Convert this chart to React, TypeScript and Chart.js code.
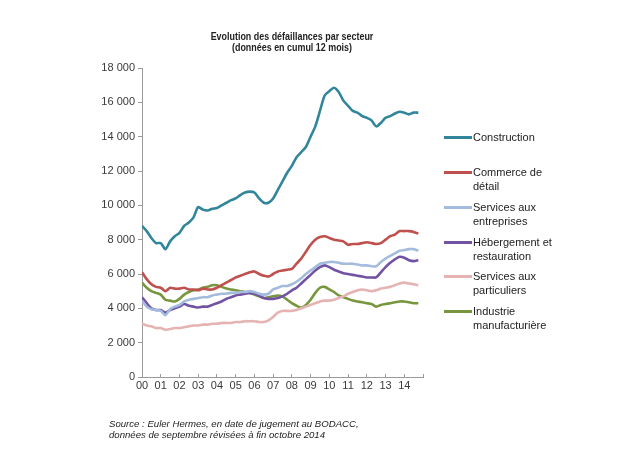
import React, { useEffect, useRef } from "react";
import { Chart, registerables } from "chart.js";

Chart.register(...registerables);

// Time axis: quarterly points, 2000 Q1 .. 2014 Q4 (x = years since 2000)
const yearLabels = ["00", "01", "02", "03", "04", "05", "06", "07", "08", "09", "10", "11", "12", "13", "14"];

const seriesNames = [
  "Construction",
  "Commerce de détail",
  "Services aux entreprises",
  "Hébergement et restauration",
  "Services aux particuliers",
  "Industrie manufacturière",
];

const seriesColors = ["#31869B", "#C0504D", "#A3BCDD", "#7253A3", "#E5B3B2", "#77963D"];

const construction = [
  8800, 8500, 8100, 7800, 7800, 7450, 7900, 8200, 8400, 8800, 9000, 9300,
  9900, 9750, 9700, 9800, 9850, 10000, 10150, 10300, 10400, 10600, 10750, 10800,
  10750, 10400, 10150, 10150, 10400, 10900, 11400, 11900, 12300, 12800, 13100, 13400,
  14000, 14600, 15500, 16400, 16650, 16850, 16600, 16100, 15800, 15500, 15400, 15200,
  15100, 14950, 14600, 14800, 15100, 15200, 15350, 15450, 15400, 15300, 15400, 15400,
];

const commerce = [
  6100, 5700, 5400, 5250, 5200, 5000, 5200, 5150, 5150, 5200, 5100, 5100,
  5050, 5150, 5100, 5100, 5200, 5350, 5500, 5650, 5800, 5900, 6000, 6100,
  6150, 6000, 5900, 5850, 6000, 6150, 6200, 6250, 6300, 6600, 6900, 7300,
  7700, 8000, 8150, 8200, 8100, 8000, 7950, 7900, 7700, 7750, 7750, 7800,
  7850, 7800, 7750, 7800, 8000, 8200, 8300, 8500, 8500, 8500, 8450, 8350,
];

const servicesEntreprises = [
  4450, 4100, 3950, 3900, 3850, 3600, 3950, 4100, 4200, 4400, 4500, 4550,
  4600, 4650, 4650, 4750, 4800, 4850, 4850, 4900, 4900, 4950, 4950, 5000,
  4950, 4850, 4800, 4850, 5100, 5200, 5300, 5300, 5400, 5550, 5750, 6000,
  6200, 6400, 6600, 6650, 6700, 6700, 6650, 6600, 6600, 6600, 6550, 6500,
  6500, 6450, 6450, 6700, 6900, 7050, 7200, 7350, 7400, 7450, 7450, 7350,
];

const hebergement = [
  4650, 4300, 4000, 3900, 3900, 3750, 3900, 4000, 4100, 4250, 4150, 4100,
  4050, 4100, 4100, 4200, 4300, 4400, 4550, 4650, 4750, 4800, 4850, 4900,
  4850, 4750, 4600, 4550, 4550, 4600, 4700, 4850, 5050, 5200, 5450, 5700,
  5950, 6200, 6400, 6500, 6400, 6250, 6150, 6050, 6000, 5950, 5900, 5850,
  5800, 5800, 5800, 6100, 6400, 6650, 6850, 7000, 6950, 6800, 6750, 6800,
];

const servicesParticuliers = [
  3100, 3000, 2950, 2850, 2850, 2750, 2800, 2850, 2850, 2900, 2950, 3000,
  3000, 3050, 3050, 3100, 3100, 3150, 3150, 3150, 3200, 3200, 3250, 3250,
  3250, 3200, 3200, 3300, 3500, 3750, 3850, 3850, 3850, 3900, 4000, 4100,
  4200, 4300, 4400, 4450, 4450, 4500, 4600, 4700, 4850, 4950, 5050, 5100,
  5050, 5000, 5050, 5150, 5200, 5250, 5350, 5450, 5500, 5450, 5400, 5350,
];

const industrie = [
  5500, 5200, 5000, 4900, 4800, 4500, 4450, 4400, 4550, 4800, 4950, 5050,
  5100, 5200, 5250, 5350, 5350, 5250, 5150, 5100, 5050, 5000, 4950, 4900,
  4800, 4700, 4600, 4650, 4700, 4750, 4700, 4500, 4300, 4150, 4050, 4200,
  4500, 4900, 5200, 5250, 5100, 4950, 4750, 4650, 4550, 4450, 4400, 4350,
  4300, 4250, 4100, 4200, 4250, 4300, 4350, 4400, 4400, 4350, 4300, 4300,
];

const seriesValues = [construction, commerce, servicesEntreprises, hebergement, servicesParticuliers, industrie];

const yTickValues = [0, 2000, 4000, 6000, 8000, 10000, 12000, 14000, 16000, 18000];

const titleLines = ["Evolution des défaillances par secteur", "(données en cumul 12 mois)"];
const sourceLines = [
  "Source : Euler Hermes, en date de jugement au BODACC,",
  "données de septembre révisées à fin octobre 2014",
];

const FONT = "'Liberation Sans', Arial, Helvetica, sans-serif";

function formatThousands(v: number): string {
  const s = String(Math.round(v));
  return s.replace(/\B(?=(\d{3})+(?!\d))/g, " ");
}

// layout (pixels)
const legendCenters = [137, 172, 207, 242, 276, 311];

export default function App() {
  const canvasRef = useRef<HTMLCanvasElement | null>(null);

  useEffect(() => {
    const canvas = canvasRef.current;
    if (!canvas) return;
    const datasets = seriesNames.map((name, si) => ({
      label: name,
      data: seriesValues[si].map((v, i) => ({ x: i / 4, y: v })),
      borderColor: seriesColors[si],
      backgroundColor: seriesColors[si],
      borderWidth: 2.6,
      pointRadius: 0,
      tension: 0.25,
      fill: false,
    }));
    const chart = new Chart(canvas, {
      type: "line",
      data: { datasets },
      options: {
        animation: false,
        responsive: false,
        layout: { padding: { left: 0, top: 68, right: 197, bottom: 68 } },
        plugins: {
          legend: { display: false },
          tooltip: { enabled: false },
          title: { display: false },
        },
        scales: {
          x: {
            type: "linear",
            min: 0,
            max: 15,
            afterFit: (s: any) => {
              s.height = 20;
            },
            ticks: {
              stepSize: 1,
              autoSkip: false,
              maxRotation: 0,
              padding: 5,
              color: "#3a3a3a",
              font: { family: FONT, size: 11 },
              callback: (v: any) => {
                const i = Math.round(Number(v));
                return i < yearLabels.length ? yearLabels[i] : "";
              },
            },
            grid: { drawOnChartArea: false, tickLength: -3, color: "#9a9a9a" },
            border: { color: "#9a9a9a" },
          },
          y: {
            min: 0,
            max: 18000,
            afterFit: (s: any) => {
              s.width = 142;
            },
            afterBuildTicks: (s: any) => {
              s.ticks = yTickValues.map((v) => ({ value: v }));
            },
            ticks: {
              padding: 3,
              color: "#3a3a3a",
              font: { family: FONT, size: 11 },
              callback: (v: any) => formatThousands(Number(v)),
            },
            grid: { drawOnChartArea: false, tickLength: 4, color: "#9a9a9a" },
            border: { color: "#9a9a9a" },
          },
        },
      },
    });
    return () => chart.destroy();
  }, []);

  return (
    <div
      style={{
        position: "fixed",
        left: 0,
        top: 0,
        width: 620,
        height: 465,
        background: "#ffffff",
        fontFamily: FONT,
        overflow: "hidden",
      }}
    >
      <canvas ref={canvasRef} width={620} height={465} style={{ position: "absolute", left: 0, top: 0, width: 620, height: 465 }} />
      <div
        style={{
          position: "absolute",
          left: 142,
          width: 300,
          top: 31,
          textAlign: "center",
          fontWeight: "bold",
          fontSize: 10.5,
          lineHeight: "11px",
          color: "#222",
          transform: "scaleX(0.85)",
          transformOrigin: "150px 0",
        }}
      >
        {titleLines.map((t, i) => (
          <div key={i}>{t}</div>
        ))}
      </div>
      {seriesNames.map((name, i) => (
        <div key={name} style={{ position: "absolute", left: 444, top: legendCenters[i] - 7, width: 170 }}>
          <div style={{ position: "absolute", left: 0, top: 6, width: 28, height: 3, background: seriesColors[i] }} />
          <div style={{ position: "absolute", left: 29, top: 0, width: 86, fontSize: 11, lineHeight: "14px", color: "#222" }}>
            {name}
          </div>
        </div>
      ))}
      <div
        style={{
          position: "absolute",
          left: 109,
          top: 418,
          fontStyle: "italic",
          fontSize: 9.6,
          lineHeight: "11px",
          color: "#222",
          whiteSpace: "nowrap",
        }}
      >
        {sourceLines.map((t, i) => (
          <div key={i}>{t}</div>
        ))}
      </div>
    </div>
  );
}
